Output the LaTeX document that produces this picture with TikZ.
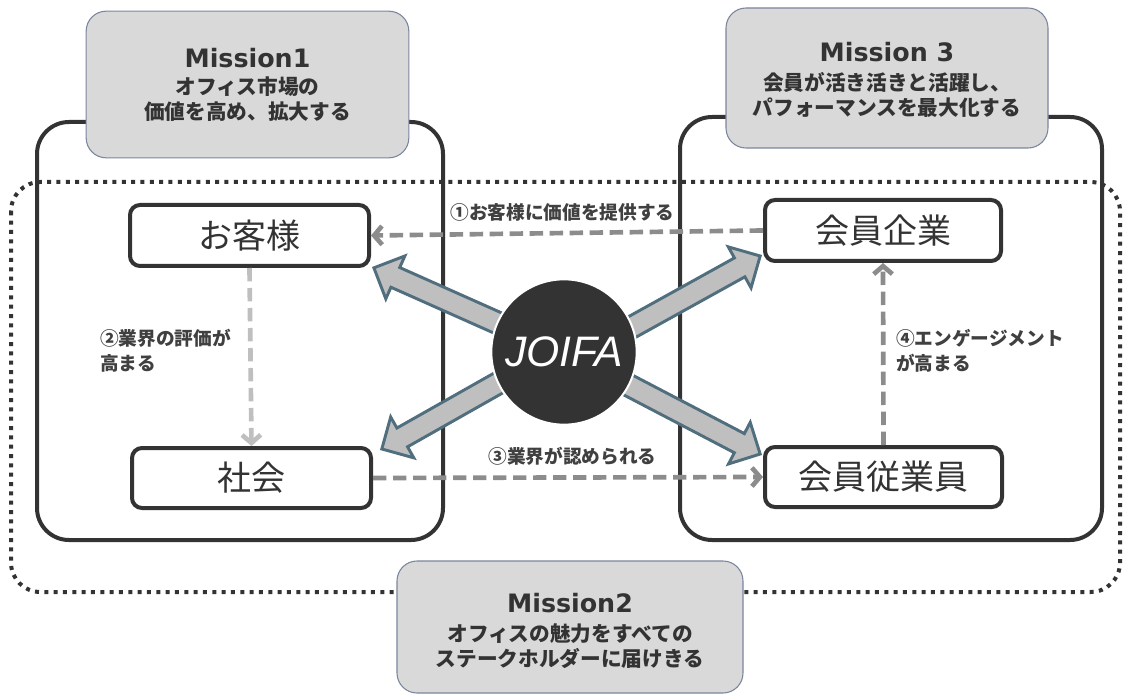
\documentclass[tikz,border=0pt]{standalone}
\usepackage{fontspec}
\newfontfamily\jp{Noto Sans CJK JP}
\newfontfamily\dv{DejaVu Sans}
\newfontfamily\lib{Liberation Sans}
\usetikzlibrary{arrows.meta,shapes.arrows}
\definecolor{dark}{HTML}{333333}
\definecolor{txt}{HTML}{404040}
\definecolor{misfill}{HTML}{D9D9D9}
\definecolor{misedge}{HTML}{7A869E}
\definecolor{blkfill}{HTML}{BFBFBF}
\definecolor{blkedge}{HTML}{506E7D}
\definecolor{dsh}{HTML}{8C8C8C}
\definecolor{dshl}{HTML}{BFBFBF}
\begin{document}
\begin{tikzpicture}[x=0.75pt,y=-0.75pt,
  missionbox/.style={draw=misedge, line width=0.8pt, fill=misfill, rounded corners=15pt, inner sep=0pt},
  missiontitle/.style={font=\dv\bfseries\fontsize{19}{22}\selectfont, text=dark, inner sep=0pt},
  missionsub/.style={font=\jp\bfseries\fontsize{15.5}{18.75}\selectfont, text=dark, inner sep=0pt, align=center},
  bigbox/.style={draw=dark, line width=3pt, rounded corners=24pt},
  dotbox/.style={draw=dark, line width=3pt, dash pattern=on 3pt off 4pt, rounded corners=22pt},
  innerbox/.style={draw=dark, line width=3pt, rounded corners=7.5pt, fill=white, inner sep=0pt,
    font=\jp\fontsize{25.5}{30}\selectfont, text=dark},
  dasharrow/.style={draw=dsh, line width=3.5pt, dash pattern=on 10pt off 5pt,
    -{Straight Barb[length=6pt,width=14pt]}},
  blockarrow/.style={single arrow, draw=blkedge, fill=blkfill, line width=2.2pt,
    inner xsep=0pt, inner ysep=7pt, single arrow head extend=9.5pt, anchor=tip},
  flowlabel/.style={font=\jp\bfseries\fontsize{14}{18.75}\selectfont, text=txt, inner sep=0pt}
]
\useasboundingbox (0,0) rectangle (1124,695);

% dotted outer frame (Mission2 area)
\draw[dotbox] (11,182) rectangle (1120,592);

% big frames
\draw[bigbox] (37,122) rectangle (443,540);
\draw[bigbox] (680,117) rectangle (1102,540);

% mission boxes
\node[missionbox, minimum width=242pt, minimum height=110pt] (m1) at (247.5,84.5) {};
\node[missiontitle] (m1t) at (247.5,58) {Mission1};
\node[missionsub] (m1s) at (247.5,99.5) {オフィス市場の\\価値を高め、拡大する};

\node[missionbox, minimum width=241.5pt, minimum height=105pt] (m3) at (887,78) {};
\node[missiontitle] (m3t) at (887,52) {Mission 3};
\node[missionsub] (m3s) at (887,94.5) {会員が活き活きと活躍し、\\パフォーマンスを最大化する};

\node[missionbox, minimum width=259.5pt, minimum height=99pt] (m2) at (570,627) {};
\node[missiontitle] (m2t) at (570,603) {Mission2};
\node[missionsub] (m2s) at (570,646) {オフィスの魅力をすべての\\ステークホルダーに届けきる};

% inner boxes
\node[innerbox, minimum width=179.25pt, minimum height=45.75pt] (okyaku) at (249.5,235.5) {お客様};
\node[innerbox, minimum width=179.25pt, minimum height=45pt] (shakai) at (251.5,478) {社会};
\node[innerbox, minimum width=177pt, minimum height=45.75pt] (kigyo) at (883,230.5) {会員企業};
\node[innerbox, minimum width=177.75pt, minimum height=45pt] (jugyoin) at (883.5,477) {会員従業員};

% dashed flows
\draw[dasharrow] (kigyo.west) -- (okyaku.east);
\draw[dasharrow, draw=dshl] (okyaku.south) -- (shakai.north);
\draw[dasharrow] (shakai.east) -- (jugyoin.west);
\draw[dasharrow] (jugyoin.north) -- (kigyo.south);

% block arrows from JOIFA
\coordinate (tul) at (372,267);
\coordinate (tur) at (762,255);
\coordinate (tll) at (380,450);
\coordinate (tlr) at (762,455);
\node[blockarrow, rotate=156, minimum height=115pt] (aul) at (tul) {};
\node[blockarrow, rotate=29, minimum height=123pt] (aur) at (tur) {};
\node[blockarrow, rotate=209.5, minimum height=114pt] (all) at (tll) {};
\node[blockarrow, rotate=-27.6, minimum height=125pt] (alr) at (tlr) {};

% JOIFA circle
\node[circle, fill=dark, draw=white, line width=1.5pt, minimum size=109pt, inner sep=0pt,
  font=\lib\itshape\fontsize{32}{36}\selectfont, text=white] (joifa) at (564,352) {JOIFA};

% flow labels
\node[flowlabel] (lab1) at (562.5,212) {①お客様に価値を提供する};
\node[flowlabel, anchor=west, align=left] (lab2) at (100,350.5) {②業界の評価が\\高まる};
\node[flowlabel] (lab3) at (572.5,456) {③業界が認められる};
\node[flowlabel, anchor=west, align=left] (lab4) at (896,350.5) {④エンゲージメント\\が高まる};
\end{tikzpicture}
\end{document}
